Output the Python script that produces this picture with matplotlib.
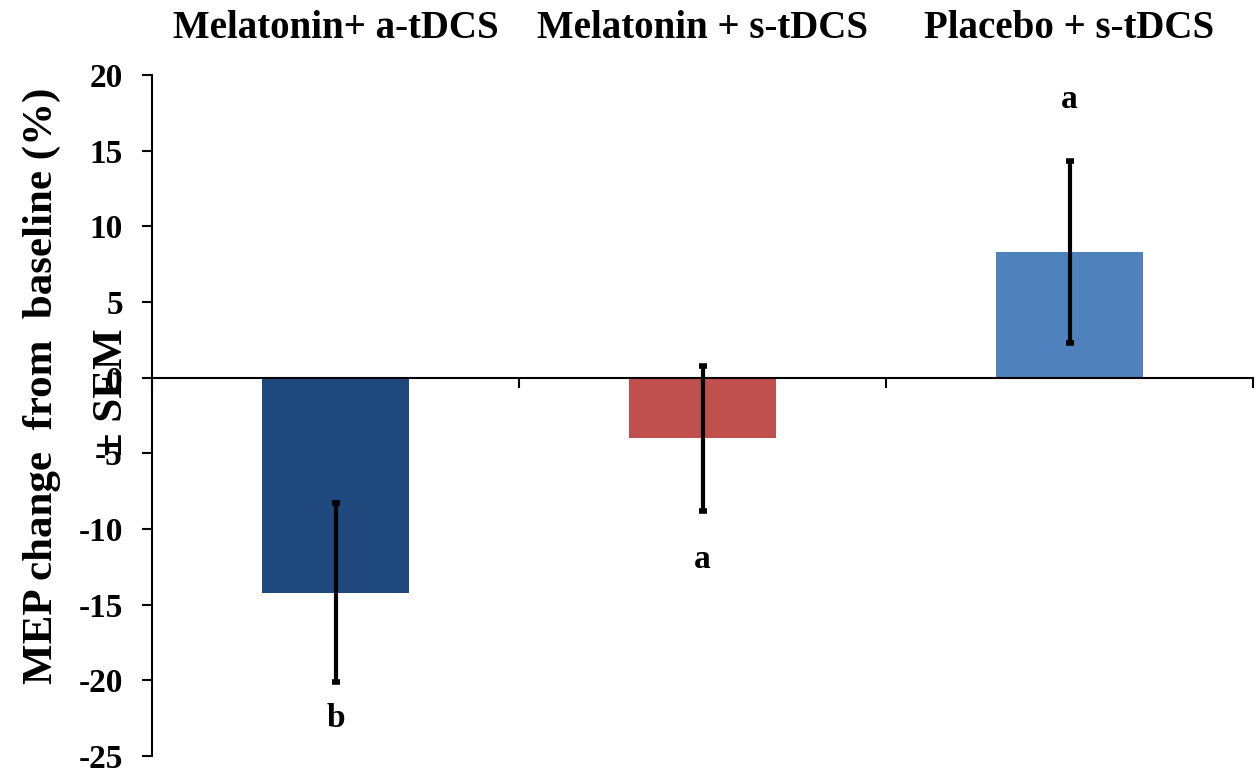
import matplotlib
matplotlib.use("Agg")
import matplotlib.pyplot as plt

categories = ["Melatonin+ a-tDCS", "Melatonin + s-tDCS", "Placebo + s-tDCS"]
values = [-14.2, -4.0, 8.3]
errors = [5.9, 4.8, 6.0]
letters = ["b", "a", "a"]
letter_y = [-22.5, -12.0, 18.4]
colors = ["#1F497D", "#C0504D", "#4F81BD"]
yticks = [-25, -20, -15, -10, -5, 0, 5, 10, 15, 20]

plt.rcParams['font.family'] = ['Liberation Serif', 'DejaVu Serif']

W, H = 1258, 776
fig = plt.figure(figsize=(W / 100, H / 100), dpi=100)
ax = fig.add_axes([152 / W, 1 - 756 / H, (1253 - 152) / W, (756 - 75) / H])

x = list(range(len(categories)))
ax.bar(x, values, width=0.4, color=colors, edgecolor="none", zorder=2)
ax.errorbar(x, values, yerr=errors, fmt="none", ecolor="black", elinewidth=3,
            capsize=3.2, capthick=4, zorder=3)

for xi, lt, ly in zip(x, letters, letter_y):
    ax.text(xi, ly, lt, ha="center", va="center", fontsize=24, fontweight="bold")

ax.set_xlim(-0.5, 2.5)
ax.set_ylim(-25, 20)
ax.set_yticks(yticks)
ax.set_yticklabels([str(t) for t in yticks], fontsize=24, fontweight="bold")
ax.set_xticks([-0.5, 0.5, 1.5, 2.5])
ax.set_xticklabels([])
ax.tick_params(axis="y", direction="out", length=7, width=1.5, pad=14)
ax.tick_params(axis="x", direction="out", length=7, width=1.5)

ax.spines["top"].set_visible(False)
ax.spines["right"].set_visible(False)
ax.spines["bottom"].set_position(("data", 0))
ax.spines["left"].set_linewidth(1.5)
ax.spines["bottom"].set_linewidth(1.5)
ax.spines["bottom"].set_zorder(4)

# category labels at top
for xi, c in zip(x, categories):
    fig.text((152 + (xi + 0.5) * (1253 - 152) / 3) / W, 1 - 28 / H, c,
             ha="center", va="center", fontsize=28, fontweight="bold")

fig.text(42 / W, 1 - 386 / H, "MEP change  from  baseline (%)", rotation=90,
         ha="center", va="center", fontsize=31, fontweight="bold")
fig.text(112 / W, 1 - 392 / H, "± SEM", rotation=90,
         ha="center", va="center", fontsize=31, fontweight="bold")

fig.savefig("out.png", dpi=100)
